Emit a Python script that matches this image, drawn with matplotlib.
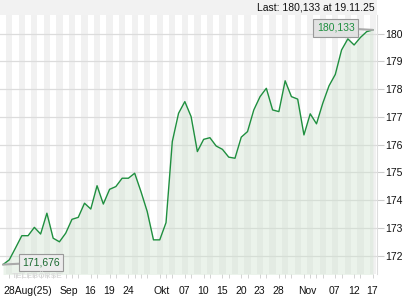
import matplotlib
matplotlib.use("Agg")
import matplotlib.pyplot as plt
from matplotlib.patches import Rectangle

plt.rcParams['font.family'] = ['Liberation Sans', 'DejaVu Sans']

# daily closes, 28 Aug 2025 .. 19 Nov 2025
values = [171.68, 171.85, 172.28, 172.72, 172.72, 173.02, 172.78, 173.53, 172.63, 172.50,
          172.81, 173.31, 173.38, 173.89, 173.68, 174.52, 173.86, 174.39, 174.49, 174.79,
          174.79, 174.97, 174.31, 173.59, 172.57, 172.57, 173.19, 176.11, 177.13, 177.55,
          177.01, 175.75, 176.19, 176.25, 175.95, 175.83, 175.55, 175.51, 176.27, 176.47,
          177.25, 177.73, 178.03, 177.25, 177.19, 178.30, 177.73, 177.64, 176.35, 177.11,
          176.75, 177.49, 178.12, 178.53, 179.41, 179.81, 179.59, 179.86, 180.07, 180.133]

xtick_pos = [0, 9, 13, 16, 19, 24, 28, 31, 34, 37, 40, 43, 47, 52, 55, 58]
xtick_labels = ['28Aug(25)', 'Sep', '16', '19', '24', 'Okt', '07', '10', '15', '20',
                '23', '28', 'Nov', '07', '12', '17']
yticks = [172, 173, 174, 175, 176, 177, 178, 179, 180]

first_label = '171,676'
last_label = '180,133'
header = 'Last: 180,133 at 19.11.25'

line_col = '#1f8f3f'
n = len(values)
xs = list(range(n))

fig = plt.figure(figsize=(4.2, 3.0), dpi=100)
ax = fig.add_axes([0.0, 1 - 274 / 300, 377 / 420, (274 - 15) / 300])

# vertical day stripes
for i in range(n + 1):
    if i % 2 == 1:
        ax.axvspan(i - 0.5, i + 0.5, color='#f1f1f1', lw=0, zorder=0)

for y in yticks:
    ax.axhline(y, color='#dcdcdc', lw=0.9, zorder=1)

ax.fill_between(xs, values, 171.0, color='#cfe3cf', alpha=0.4, lw=0, zorder=2)
ax.plot(xs, values, color=line_col, lw=1.0, zorder=3)

ax.set_xlim(-0.48, 59.65)
ax.set_ylim(171.34, 180.67)

for s in ax.spines.values():
    s.set_visible(False)
ax.spines['right'].set_visible(True)
ax.spines['right'].set_color('#dddddd')

ax.yaxis.tick_right()
ax.set_yticks(yticks)
ax.set_yticklabels([str(v) for v in yticks])
ax.tick_params(axis='y', length=5, color='#cccccc', pad=1, labelsize=7.5, labelcolor='#111111')

ax.set_xticks(xtick_pos)
ax.set_xticklabels(xtick_labels)
for lab in ax.get_xticklabels():
    lab.set_horizontalalignment('left')
ax.set_xticks(xs, minor=True)
ax.tick_params(axis='x', which='major', length=0, pad=9, labelsize=7.5, labelcolor='#111111')
ax.tick_params(axis='x', which='minor', length=3, color='#cccccc', direction='out', pad=2)

# value labels
ax.annotate(last_label, xy=(n - 1, values[-1]), xytext=(-37, 2), textcoords='offset pixels',
            ha='center', va='center', fontsize=7.5, color=line_col, zorder=5,
            bbox=dict(boxstyle='square,pad=0.35', fc='#e2e2e2', ec='#999999', lw=0.8),
            arrowprops=dict(arrowstyle='-', color='#aaaaaa', lw=1.5, shrinkA=0, shrinkB=0))
ax.annotate(first_label, xy=(0, values[0]), xytext=(38, 2), textcoords='offset pixels',
            ha='center', va='center', fontsize=7.5, color='#1a6a30', zorder=5,
            bbox=dict(boxstyle='square,pad=0.3', fc='#ececec', ec='#999999', lw=0.8),
            arrowprops=dict(arrowstyle='-', color='#aaaaaa', lw=1.5, shrinkA=0, shrinkB=0))

# header bar
fig.add_artist(Rectangle((0, 1 - 15 / 300), 377 / 420, 15 / 300, transform=fig.transFigure,
                         color='#f2f2f2', lw=0, zorder=0))
fig.text(375 / 420, 1 - 8 / 300, header, ha='right', va='center', fontsize=7.5, color='#111111')

# watermark
fig.text(12 / 420, 1 - 276 / 300, 'TELEBÖRSE', ha='left', va='center', fontsize=6,
         fontweight='bold', color='#dcdcdc', zorder=4)

fig.savefig('out.png', dpi=100)
